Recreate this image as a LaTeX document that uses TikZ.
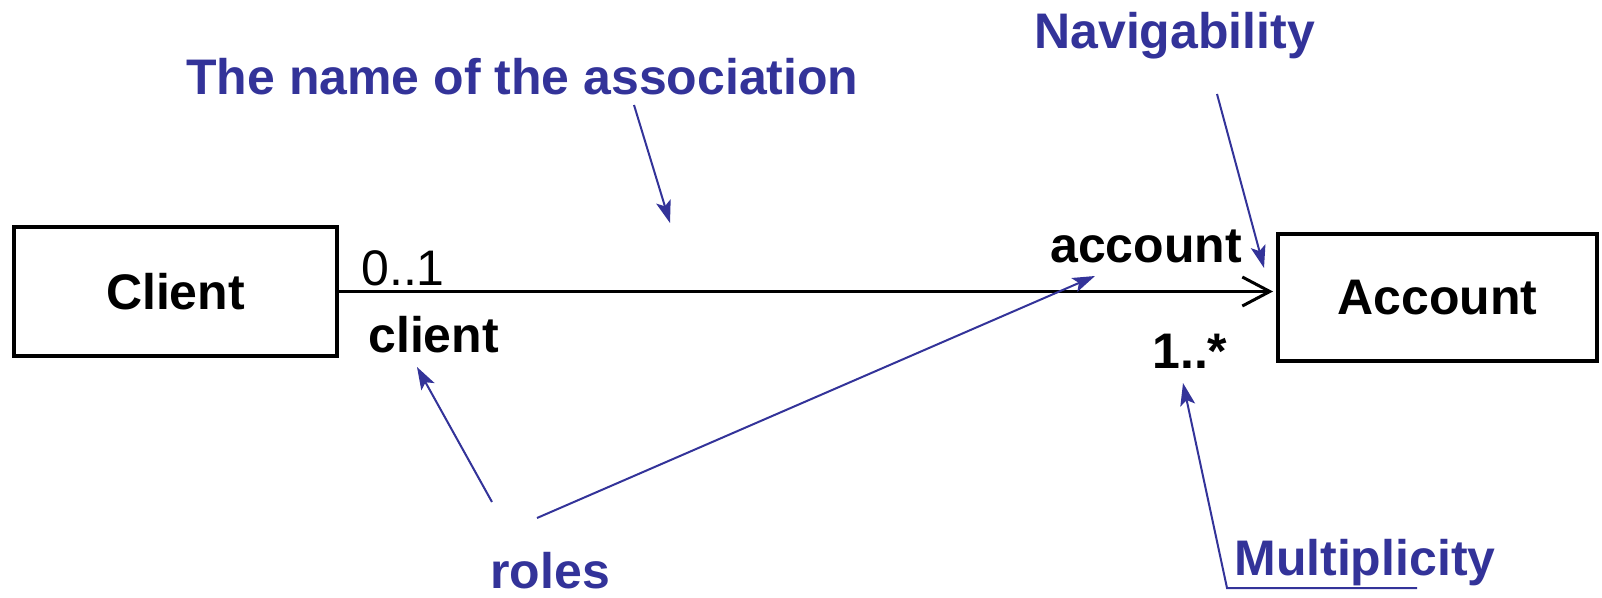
\documentclass[tikz,border=0pt]{standalone}
\usepackage{fontspec}
\setmainfont{Liberation Sans}
\usepackage{tikz}
\usetikzlibrary{arrows.meta}
\definecolor{umlblue}{RGB}{51,51,153}

\begin{document}
\begin{tikzpicture}[x=0.02cm, y=-0.02cm,
      cls/.style={rectangle, draw, line width=0.08cm, inner sep=0pt, font=\fontsize{28.45pt}{34pt}\selectfont\bfseries},
      lbl/.style={inner sep=0pt, anchor=base west, font=\fontsize{28.45pt}{34pt}\selectfont\bfseries},
      note/.style={lbl, text=umlblue},
      arr/.style={-{Stealth[length=0.45cm, width=0.3cm, inset=0.1cm]}, umlblue, line width=0.04cm},
      assoc/.style={-{Straight Barb[length=0.55cm, width=0.58cm]}, line width=0.06cm}]
    \useasboundingbox (0,0) rectangle (1602,598);
    % the two classes
    \node[cls, minimum width=6.46cm, minimum height=2.58cm] (client) at (175.5,291.5) {Client};
    \node[cls, minimum width=6.38cm, minimum height=2.54cm] (account) at (1437.5,297.5) {Account};
    \draw[assoc, shorten >=0.06cm] (client.east) -- (client.east -| account.west);
    % ends of the association
    \node[lbl, font=\fontsize{28.45pt}{34pt}\selectfont] (mulc) at (361,285) {0..1};
    \node[lbl] (rolec) at (368,352) {client};
    \node[lbl] (rolea) at (1050,262) {account};
    \node[lbl] (mula) at (1152,368) {1..*};
    % notes
    \node[note] (assocname) at (186,94) {The name of the association};
    \node[note] (navig) at (1034,49) {Navigability};
    \node[note] (roles) at (490,588) {roles};
    \node[note] (multi) at (1234,575) {Multiplicity};
    \coordinate (nameA) at (634,105);  \coordinate (nameB) at (670,223);
    \coordinate (navA) at (1217,94);   \coordinate (navB) at (1264,268);
    \coordinate (rolA) at (492,502);   \coordinate (rolB) at (417,367);
    \coordinate (rolC) at (537,518);   \coordinate (rolD) at (1095,276);
    \coordinate (mulA) at (1417,588);  \coordinate (mulB) at (1227,588);
    \coordinate (mulC) at (1183,383);
    \draw[arr] (nameA) -- (nameB);
    \draw[arr] (navA) -- (navB);
    \draw[arr] (rolA) -- (rolB);
    \draw[arr] (rolC) -- (rolD);
    \draw[arr] (mulA) -- (mulB) -- (mulC);
  \end{tikzpicture}
\end{document}
